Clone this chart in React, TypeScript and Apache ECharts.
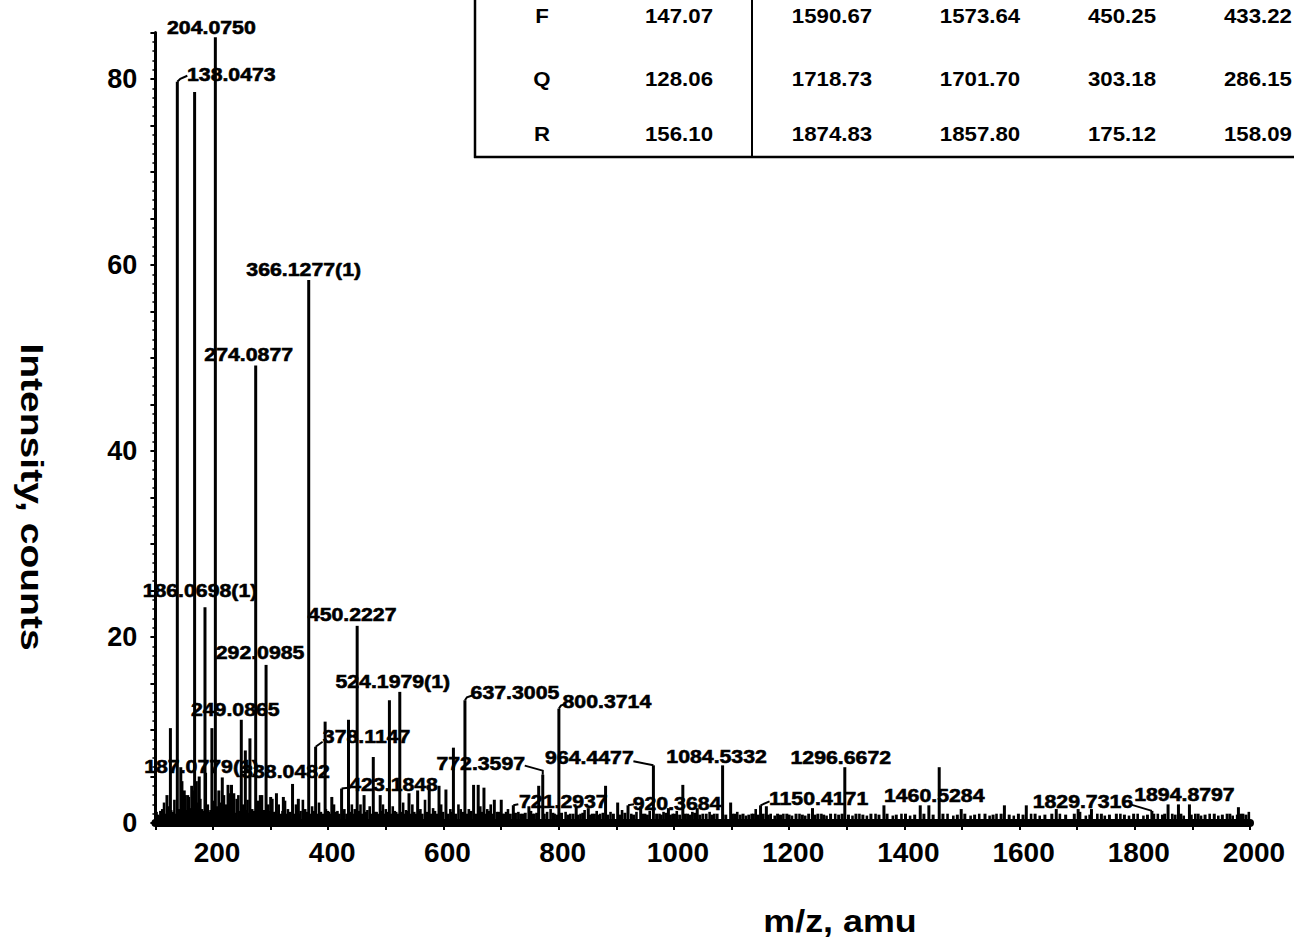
import React, { useEffect, useRef } from "react";
import * as echarts from "echarts";

const FONT = '"Liberation Sans", Arial, Helvetica, sans-serif';

// Main peaks: [m/z, intensity]
const PEAKS: [number, number][] = [
  [120.08, 3.0], [126.05, 10.2], [138.0473, 79.7], [144.06, 6.0], [146.06, 4.5],
  [150.06, 3.5], [156.08, 3.0], [163.06, 4.0], [168.0655, 78.6], [171.08, 4.5],
  [176.07, 5.0], [186.0698, 23.2], [187.0779, 5.4], [198.09, 10.2], [204.075, 84.5],
  [210.08, 3.5], [216.1, 4.9], [226.08, 4.1], [232.1, 4.1], [236.1, 3.2],
  [249.0865, 11.1], [256.1, 7.8], [264.1, 9.1], [274.0877, 49.2], [282.11, 3.0],
  [292.0985, 17.0], [300.12, 2.8], [310.1, 3.2], [322.1, 2.8], [338.0482, 4.2],
  [348.1, 2.6], [366.1277, 58.4], [378.1147, 8.2], [394.6, 10.9], [406.2, 2.8],
  [423.1848, 3.7], [435.2, 11.1], [450.2227, 21.2], [462.2, 3.0], [478.2, 7.1],
  [490.2, 3.0], [506.2, 13.2], [524.1979, 14.1], [540.2, 3.2], [555.2, 3.5],
  [575.3, 4.0], [592.3, 4.0], [604.3, 3.6], [617.3, 8.1], [637.3005, 13.2],
  [652.3, 4.1], [660.3, 4.1], [670.3, 3.8], [688.3, 2.5], [700.3, 2.5],
  [721.2937, 1.9], [748.3, 1.8], [765.3, 4.0], [772.3597, 5.2], [800.3714, 12.3],
  [830.4, 1.8], [851.4, 1.6], [881.4, 4.0], [902.4, 2.2], [920.3684, 1.9],
  [942.4, 1.8], [964.4477, 6.2], [990.5, 1.6], [1015.5, 4.1], [1040.5, 1.6],
  [1084.5332, 6.2], [1098.5, 2.2], [1150.4171, 1.9], [1160.5, 1.8], [1240.6, 1.6],
  [1296.6672, 6.0], [1364.6, 1.9], [1427.6, 1.9], [1442.6, 1.9], [1460.5284, 6.0],
  [1498.7, 1.5], [1573.7, 1.9], [1611.7, 1.9], [1663.7, 1.5], [1701.7, 1.5],
  [1724.8, 1.5], [1829.7316, 1.3], [1857.8, 2.0], [1875.8, 2.0], [1894.8797, 2.0],
  [1979.9, 1.7],
];

// Baseline noise peaks: [m/z, intensity]
const NOISE: [number, number][] = [
  [102, 1.2], [106, 0.8], [112, 1.5], [115, 2.2], [118, 1.0], [122, 1.8], [130, 1.2],
  [133, 2.5], [141, 1.5], [148, 2.0], [152, 3.0], [158, 2.8], [161, 1.6], [165, 3.5],
  [173, 2.2], [178, 2.6], [181, 1.5], [191, 2.0], [194, 1.2], [201, 2.4], [207, 1.8],
  [212, 2.2], [219, 3.0], [222, 2.0], [229, 3.2], [241, 2.6], [244, 3.0], [252, 2.0],
  [260, 2.5], [268, 1.5], [278, 2.4], [285, 3.0], [289, 1.4], [296, 2.0], [303, 2.6],
  [306, 1.2], [314, 2.0], [318, 1.0], [325, 2.4], [330, 1.5], [344, 2.0], [352, 1.3],
  [356, 2.5], [360, 1.5], [372, 1.8], [384, 2.2], [396, 1.5], [401, 1.2], [410, 2.0],
  [416, 1.3], [428, 1.5], [441, 2.0], [446, 1.5], [456, 2.0], [468, 1.4], [472, 1.8],
  [484, 1.2], [495, 2.0], [500, 1.5], [512, 1.8], [518, 1.2], [530, 2.2], [535, 1.4],
  [546, 2.0], [560, 1.5], [568, 2.5], [582, 1.6], [596, 2.0], [612, 1.5], [626, 2.0],
  [630, 1.5], [644, 1.5], [664, 1.8], [676, 1.5], [682, 2.0], [693, 1.2], [705, 1.0],
  [712, 1.5], [730, 1.2], [738, 1.0], [752, 1.3], [758, 1.0], [780, 1.2], [786, 1.5],
  [793, 1.0], [812, 1.2], [820, 1.0], [838, 1.0], [845, 1.4], [858, 1.0], [866, 1.3],
  [872, 1.0], [890, 1.2], [910, 1.4], [926, 1.0], [935, 1.2], [950, 1.0], [958, 1.3],
  [975, 1.0], [982, 1.2], [998, 1.0], [1005, 1.3], [1024, 1.0], [1032, 1.2], [1050, 1.0],
  [1062, 1.2], [1070, 1.0], [1102, 1.0], [1110, 1.2], [1125, 0.8], [1135, 1.0], [1142, 1.5],
  [1168, 1.0], [1175, 0.8], [1190, 1.0], [1205, 0.8], [1218, 1.0], [1228, 0.8], [1256, 1.0],
  [1265, 0.8], [1280, 1.0], [1310, 0.8], [1322, 1.0], [1335, 0.8], [1350, 1.0], [1380, 0.8],
  [1395, 1.0], [1410, 0.8], [1475, 1.0], [1485, 0.8], [1515, 0.8], [1530, 1.0], [1548, 0.8],
  [1560, 1.0], [1590, 0.8], [1620, 1.0], [1635, 0.8], [1670, 1.0], [1705, 1.2], [1715, 0.8],
  [1735, 1.0], [1748, 0.8], [1775, 1.0], [1790, 0.8], [1805, 1.0], [1815, 0.8], [1840, 1.0],
  [1865, 1.0], [1885, 0.8], [1905, 1.0], [1915, 0.8], [1930, 1.0], [1945, 0.8], [1960, 1.0],
  [1970, 0.8], [1988, 1.0], [1998, 1.2],
];

// Denser low-level baseline noise: [m/z, intensity]
const BASELINE: [number, number][] = [
  [104, 0.9], [109, 1.3], [124, 0.9], [127, 1.4], [135, 1.0], [139, 1.2], [143, 1.0],
  [154, 1.4], [167, 1.2], [170, 1.0], [184, 1.3], [189, 1.0], [196, 1.4], [203, 1.1],
  [214, 1.3], [224, 1.2], [234, 1.5], [238, 1.1], [247, 1.3], [254, 1.0], [258, 1.4],
  [263, 1.1], [271, 1.3], [281, 1.0], [287, 1.2], [294, 1.0], [299, 1.3], [309, 1.2],
  [312, 0.9], [321, 1.3], [327, 1.0], [334, 1.2], [341, 1.0], [346, 1.3], [350, 1.0],
  [363, 1.2], [369, 1.0], [375, 1.3], [381, 1.0], [387, 1.2], [391, 1.0], [399, 1.3],
  [404, 1.0], [413, 1.2], [419, 1.0], [425, 1.3], [432, 1.0], [438, 1.2], [444, 1.0],
  [453, 1.3], [459, 1.0], [465, 1.2], [475, 1.0], [481, 1.2], [487, 1.0], [493, 1.3],
  [498, 1.0], [503, 1.2], [509, 1.0], [515, 1.3], [521, 1.0], [527, 1.2], [532, 1.0],
  [538, 1.3], [543, 1.0], [549, 1.2], [552, 1.0], [558, 1.3], [563, 1.0], [571, 1.2],
  [578, 1.0], [585, 1.3], [589, 1.0], [599, 1.2], [608, 1.0], [615, 1.2], [621, 1.0],
  [634, 1.2], [641, 1.0], [648, 1.3], [656, 1.0], [667, 1.2], [673, 1.0], [679, 1.3],
  [685, 1.0], [696, 1.2], [702, 1.0], [709, 1.2], [716, 1.0], [725, 1.1], [734, 1.0],
  [742, 1.1], [755, 1.0], [762, 1.1], [775, 1.0], [790, 1.1], [797, 0.9], [805, 1.1],
  [816, 0.9], [825, 1.0], [834, 0.9], [842, 1.1], [854, 0.9], [862, 1.0], [869, 0.9],
  [877, 1.1], [885, 0.9], [895, 1.0], [906, 0.9], [915, 1.1], [930, 0.9], [946, 1.0],
  [954, 0.9], [970, 1.0], [978, 0.9], [986, 1.1], [994, 0.9], [1001, 1.0], [1010, 0.9],
  [1020, 1.0], [1028, 0.9], [1036, 1.1], [1045, 0.9], [1056, 1.0], [1066, 0.9], [1075, 1.0],
  [1090, 0.9], [1106, 1.0], [1115, 0.9], [1120, 1.0], [1130, 0.9], [1138, 1.0], [1146, 0.9],
  [1155, 1.0], [1164, 0.9], [1180, 1.0], [1185, 0.9], [1196, 1.0], [1200, 0.9], [1212, 1.0],
  [1223, 0.9], [1234, 1.0], [1245, 0.9], [1250, 1.0], [1260, 0.9], [1272, 1.0], [1286, 0.9],
  [1292, 1.0], [1303, 0.9], [1316, 1.0], [1328, 0.9], [1342, 1.0], [1356, 0.9], [1370, 1.0],
  [1386, 0.9], [1402, 1.0], [1418, 0.9], [1434, 1.0], [1450, 0.9], [1467, 1.0], [1492, 0.9],
  [1505, 1.0], [1522, 0.9], [1540, 1.0], [1554, 0.9], [1568, 1.0], [1582, 0.9], [1598, 1.0],
  [1606, 0.9], [1627, 1.0], [1644, 0.9], [1656, 1.0], [1680, 0.9], [1695, 1.0], [1722, 0.9],
  [1742, 1.0], [1756, 0.9], [1768, 1.0], [1782, 0.9], [1798, 1.0], [1822, 0.9], [1833, 1.0],
  [1848, 0.9], [1852, 1.0], [1870, 0.9], [1880, 1.0], [1898, 0.9], [1910, 1.0], [1922, 0.9],
  [1938, 1.0], [1952, 0.9], [1965, 1.0], [1978, 0.9], [1984, 1.0], [1993, 0.9],
];

// Annotated peaks (text is the peak m/z)
const PEAK_LABELS: string[] = [
  "204.0750", "138.0473", "366.1277(1)", "274.0877", "186.0698(1)", "292.0985",
  "450.2227", "524.1979(1)", "249.0865", "637.3005", "800.3714", "378.1147",
  "423.1848", "772.3597", "964.4477", "1084.5332", "1296.6672", "1460.5284",
  "721.2937", "920.3684", "1150.4171", "1829.7316", "1894.8797", "187.0779(1)",
  "338.0482",
];

// Label placement (pixel offsets of label centre from the peak top) and leader lines
const LABEL_LAYOUT: { dx: number; dy: number; leader?: [number, number][] }[] = [
  { dx: -4, dy: -10 },
  { dx: 54, dy: -7, leader: [[0, 0], [3, -3], [10, -6]] },
  { dx: -5, dy: -10 },
  { dx: -7, dy: -11 },
  { dx: -5, dy: -17 },
  { dx: -6, dy: -12 },
  { dx: -5, dy: -11 },
  { dx: -7, dy: -10 },
  { dx: -6, dy: -10 },
  { dx: 50, dy: -8, leader: [[0, 0], [2, -3], [8, -5]] },
  { dx: 48, dy: -7, leader: [[0, 0], [2, -3], [7, -5]] },
  { dx: 51, dy: -10, leader: [[0, 0], [7, -5]] },
  { dx: 52, dy: -4, leader: [[0, 0], [9, -1]] },
  { dx: -62, dy: -11, leader: [[0, 0], [0, -4], [-18, -9]] },
  { dx: -64, dy: -8, leader: [[0, 0], [-20, -4]] },
  { dx: -6, dy: -9 },
  { dx: -4, dy: -10 },
  { dx: -5, dy: 28 },
  { dx: 50, dy: -4, leader: [[0, 0], [5, -1]] },
  { dx: 49, dy: -2, leader: [[0, 0], [6, -1]] },
  { dx: 58, dy: -7, leader: [[0, 0], [9, -4]] },
  { dx: -69, dy: -10, leader: [[0, 0], [-20, -6]] },
  { dx: -5, dy: -10 },
  { dx: -4, dy: -6 },
  { dx: -7, dy: -13 },
];

// Fragment table (top part cut off in the reference)
const TABLE_RESIDUE = ["F", "Q", "R"];
const TABLE_MASS = ["147.07", "128.06", "156.10"];
const TABLE_B = ["1590.67", "1718.73", "1874.83"];
const TABLE_B_NH3 = ["1573.64", "1701.70", "1857.80"];
const TABLE_Y = ["450.25", "303.18", "175.12"];
const TABLE_Y_NH3 = ["433.22", "286.15", "158.09"];

const X_TITLE = "m/z, amu";
const Y_TITLE = "Intensity, counts";

function makeStick(width: number) {
  return (_params: any, api: any) => {
    const x = api.value(0);
    const y = api.value(1);
    const top = api.coord([x, y]);
    const base = api.coord([x, 0]);
    return {
      type: "rect",
      shape: { x: top[0] - width / 2, y: top[1], width, height: base[1] - top[1] },
      style: { fill: "#000" },
    };
  };
}

export default function App() {
  const ref = useRef<HTMLDivElement>(null);

  useEffect(() => {
    if (!ref.current) return;
    const chart = echarts.init(ref.current, null, { renderer: "svg" });

    const labelData = PEAK_LABELS.map((t, i) => {
      const mz = parseFloat(t);
      let best = PEAKS[0];
      for (const p of PEAKS) if (Math.abs(p[0] - mz) < Math.abs(best[0] - mz)) best = p;
      return [best[0], best[1], i];
    });

    const tableCols = [TABLE_RESIDUE, TABLE_MASS, TABLE_B, TABLE_B_NH3, TABLE_Y, TABLE_Y_NH3];
    const colX = [542, 679, 832, 980, 1122, 1292];
    const colAlign = ["center", "center", "center", "center", "center", "right"];
    const rowY = [16, 79, 134];
    const tableTexts: any[] = [];
    tableCols.forEach((col, c) =>
      col.forEach((txt, r) =>
        tableTexts.push({
          type: "text",
          x: colX[c],
          y: rowY[r],
          scaleX: 1.06,
          style: {
            text: txt,
            fill: "#000",
            font: `bold 21px ${FONT}`,
            align: colAlign[c],
            verticalAlign: "middle",
          },
        })
      )
    );

    const option: any = {
      animation: false,
      backgroundColor: "#fff",
      grid: { left: 155.4, right: 44, top: 32.5, bottom: 117, containLabel: false },
      xAxis: {
        type: "value",
        min: 100,
        max: 2000,
        interval: 100,
        axisLine: { show: true, lineStyle: { color: "#000", width: 8 } },
        axisTick: { show: true, length: 7, lineStyle: { color: "#000", width: 2 } },
        axisLabel: {
          margin: 15,
          padding: [0, 0, 0, 8],
          color: "#000",
          fontFamily: FONT,
          fontWeight: "bold",
          fontSize: 28,
          formatter: (v: number) => (v % 200 === 0 ? String(v) : ""),
        },
        splitLine: { show: false },
      },
      yAxis: {
        type: "value",
        min: 0,
        max: 85,
        interval: 5,
        axisLine: { show: true, lineStyle: { color: "#000", width: 3 } },
        axisTick: { show: true, length: 5, lineStyle: { color: "#000", width: 2 } },
        minorTick: { show: true, splitNumber: 5, length: 3, lineStyle: { color: "#000", width: 1.5 } },
        axisLabel: {
          margin: 18,
          padding: [6, 0, 0, 0],
          color: "#000",
          fontFamily: FONT,
          fontWeight: "bold",
          fontSize: 27,
          formatter: (v: number) => (v % 20 === 0 ? String(v) : ""),
        },
        splitLine: { show: false },
      },
      series: [
        {
          type: "custom",
          name: "baseline",
          data: BASELINE,
          encode: { x: 0, y: 1 },
          renderItem: makeStick(3),
          z: 2,
        },
        {
          type: "custom",
          name: "noise",
          data: NOISE,
          encode: { x: 0, y: 1 },
          renderItem: makeStick(2.6),
          z: 2,
        },
        {
          type: "custom",
          name: "peaks",
          data: PEAKS,
          encode: { x: 0, y: 1 },
          renderItem: makeStick(3),
          z: 3,
        },
        {
          type: "custom",
          name: "labels",
          data: labelData,
          encode: { x: 0, y: 1 },
          z: 4,
          renderItem: (_params: any, api: any) => {
            const p = api.coord([api.value(0), api.value(1)]);
            const idx = api.value(2);
            const L = LABEL_LAYOUT[idx];
            const children: any[] = [
              {
                type: "text",
                x: p[0] + L.dx,
                y: p[1] + L.dy,
                scaleX: 1.12,
                style: {
                  text: PEAK_LABELS[idx],
                  fill: "#000",
                  stroke: "#000",
                  lineWidth: 0.6,
                  font: `bold 19px ${FONT}`,
                  align: "center",
                  verticalAlign: "middle",
                },
              },
            ];
            if (L.leader) {
              children.push({
                type: "polyline",
                shape: { points: L.leader.map(([a, b]) => [p[0] + a, p[1] + b]) },
                style: { stroke: "#000", lineWidth: 2, fill: null },
              });
            }
            return { type: "group", children };
          },
        },
      ],
      graphic: [
        {
          type: "line",
          shape: { x1: 475, y1: 0, x2: 475, y2: 158 },
          style: { stroke: "#000", lineWidth: 2.5 },
        },
        {
          type: "line",
          shape: { x1: 752, y1: 0, x2: 752, y2: 158 },
          style: { stroke: "#000", lineWidth: 2 },
        },
        {
          type: "line",
          shape: { x1: 474, y1: 157, x2: 1294, y2: 157 },
          style: { stroke: "#000", lineWidth: 2.5 },
        },
        ...tableTexts,
        {
          type: "text",
          x: 840,
          y: 921,
          scaleX: 1.12,
          style: {
            text: X_TITLE,
            fill: "#000",
            font: `bold 32px ${FONT}`,
            align: "center",
            verticalAlign: "middle",
          },
        },
        {
          type: "text",
          x: 32,
          y: 497,
          rotation: -Math.PI / 2,
          scaleX: 1.22,
          style: {
            text: Y_TITLE,
            fill: "#000",
            font: `bold 32px ${FONT}`,
            align: "center",
            verticalAlign: "middle",
          },
        },
      ],
    };

    chart.setOption(option);
    return () => chart.dispose();
  }, []);

  return (
    <div
      ref={ref}
      style={{ position: "absolute", left: 0, top: 0, width: 1294, height: 940, background: "#fff" }}
    />
  );
}
